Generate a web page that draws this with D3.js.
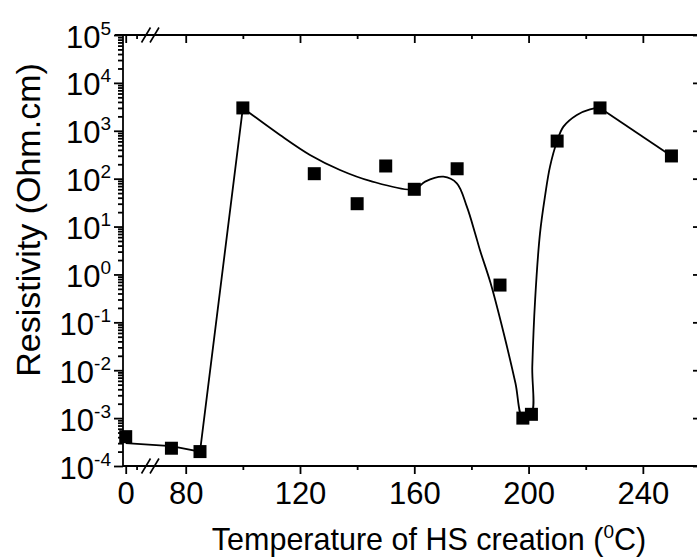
<!DOCTYPE html>
<html>
<head>
<meta charset="utf-8">
<script src="https://cdn.jsdelivr.net/npm/d3@7"></script>
<style>
body { margin: 0; background: #fff; }
text { font-family: "Liberation Sans", Arial, sans-serif; fill: #000; }
</style>
</head>
<body>
<script>
// measured samples
var temps  = [0, 75, 85, 100, 125, 140, 150, 160, 175, 190, 198, 201, 210, 225, 250];
var resist = [4.1e-4, 2.35e-4, 2.0e-4, 3000, 127, 30, 184, 60, 161, 0.6, 1.0e-3, 1.2e-3, 610, 3000, 298];

// guide line: straight start
var lowFitT = [0, 75, 85, 100];
var lowFitR = [3.0e-4, 2.6e-4, 2.0e-4, 3000];
// guide line: smooth part (dip, then rise)
var curveT = [100, 113, 123.5, 134, 144.5, 160, 163.8, 170.2, 174.9, 178.4, 181.3, 183, 186.7, 191.3, 195.4, 198,
              201, 201.3, 202.3, 204, 205.8, 207.5, 210, 212.2, 216.9, 221.5, 225];
var curveR = [3000, 817, 313, 152, 90, 60, 87, 110, 80, 26, 7.2, 3.2, 0.66, 0.059, 0.0054, 1.0e-3,
              1.2e-3, 0.012, 0.3, 7.2, 45, 178, 610, 1220, 2140, 2800, 3000];
// guide line: straight end
var tailFitT = [225, 250];
var tailFitR = [3000, 298];

// ticks
var xMajorLeft  = [0];
var xMinorLeft  = [20];
var xMajorRight = [80, 120, 160, 200, 240];
var xMinorRight = [100, 140, 180, 220];
var yExponents  = [-4, -3, -2, -1, 0, 1, 2, 3, 4, 5];

var width = 697, height = 557;
var L = 123, R = 698, T = 35, B = 466;

var svg = d3.select("body").append("svg")
	.attr("width", width)
	.attr("height", height);

var y = d3.scaleLog().domain([1e-4, 1e5]).range([B, T]);
// broken x axis: two linear pieces
var xLeft  = d3.scaleLinear().domain([-5, 30]).range([L, 142]);
var xRight = d3.scaleLinear().domain([71, 260]).range([160, 700]);
function x(t) { return t < 50 ? xLeft(t) : xRight(t); }

function styleAxis(g) {
	g.select(".domain").remove();
	g.selectAll(".tick line").attr("stroke-width", 1.8);
	g.selectAll(".tick text").attr("font-size", 31);
}

// bottom axis
var gBottom = svg.append("g").attr("transform", "translate(0," + B + ")");
gBottom.append("g").call(d3.axisBottom(xLeft).tickValues(xMajorLeft).tickSize(8).tickPadding(8).tickFormat(d3.format("d"))).call(styleAxis);
gBottom.append("g").call(d3.axisBottom(xLeft).tickValues(xMinorLeft).tickSize(4).tickFormat("")).call(styleAxis);
gBottom.append("g").call(d3.axisBottom(xRight).tickValues(xMajorRight).tickSize(8).tickPadding(8).tickFormat(d3.format("d"))).call(styleAxis);
gBottom.append("g").call(d3.axisBottom(xRight).tickValues(xMinorRight).tickSize(4).tickFormat("")).call(styleAxis);

// top axis, ticks inward
var gTop = svg.append("g").attr("transform", "translate(0," + T + ")");
gTop.append("g").call(d3.axisTop(xLeft).tickValues(xMajorLeft).tickSize(-8).tickFormat("")).call(styleAxis);
gTop.append("g").call(d3.axisTop(xLeft).tickValues(xMinorLeft).tickSize(-4).tickFormat("")).call(styleAxis);
gTop.append("g").call(d3.axisTop(xRight).tickValues(xMajorRight).tickSize(-8).tickFormat("")).call(styleAxis);
gTop.append("g").call(d3.axisTop(xRight).tickValues(xMinorRight).tickSize(-4).tickFormat("")).call(styleAxis);

// left axis
var majorY = yExponents.map(function(e) { return Math.pow(10, e); });
var minorY = y.ticks().filter(function(v) {
	var e = Math.log10(v);
	return Math.abs(e - Math.round(e)) > 1e-6;
});
var gLeft = svg.append("g").attr("transform", "translate(" + L + ",0)");
gLeft.append("g").call(d3.axisLeft(y).tickValues(minorY).tickSize(5).tickFormat("")).call(styleAxis);
var leftMajor = gLeft.append("g").call(d3.axisLeft(y).tickValues(majorY).tickSize(9).tickPadding(3)).call(styleAxis);
leftMajor.selectAll(".tick text").each(function(d) {
	var t = d3.select(this).text(null).attr("dy", 12);
	t.append("tspan").text("10");
	t.append("tspan").attr("dy", -13).attr("font-size", 19).text(Math.round(Math.log10(d)));
});

// right axis, major ticks inward
svg.append("g").attr("transform", "translate(" + R + ",0)")
	.call(d3.axisLeft(y).tickValues(majorY).tickSize(5).tickFormat("")).call(styleAxis);

// frame
svg.append("line").attr("x1", L - 8).attr("x2", width).attr("y1", T).attr("y2", T)
	.attr("stroke", "#000").attr("stroke-width", 1.8);
svg.append("line").attr("x1", L).attr("x2", width).attr("y1", B).attr("y2", B)
	.attr("stroke", "#000").attr("stroke-width", 1.8);
svg.append("line").attr("x1", L).attr("x2", L).attr("y1", T).attr("y2", B)
	.attr("stroke", "#000").attr("stroke-width", 1.8);

// break marks on top and bottom axis
[T, B].forEach(function(yy) {
	[146, 154.5].forEach(function(cx) {
		svg.append("line")
			.attr("x1", cx - 4.5).attr("y1", yy + 7.5)
			.attr("x2", cx + 4.5).attr("y2", yy - 7.5)
			.attr("stroke", "#000").attr("stroke-width", 1.6);
	});
});

// guide lines
var straight = d3.line().x(function(d) { return x(d[0]); }).y(function(d) { return y(d[1]); });
var smooth = d3.line().x(function(d) { return x(d[0]); }).y(function(d) { return y(d[1]); })
	.curve(d3.curveCatmullRom.alpha(0.5));

svg.append("path").attr("d", straight(d3.zip(lowFitT, lowFitR)))
	.attr("fill", "none").attr("stroke", "#000").attr("stroke-width", 1.8);
svg.append("path").attr("d", smooth(d3.zip(curveT, curveR)))
	.attr("fill", "none").attr("stroke", "#000").attr("stroke-width", 1.8);
svg.append("path").attr("d", straight(d3.zip(tailFitT, tailFitR)))
	.attr("fill", "none").attr("stroke", "#000").attr("stroke-width", 1.8);

// squares
var sq = 13;
svg.selectAll("rect.pt")
	.data(d3.zip(temps, resist))
	.enter().append("rect")
	.attr("class", "pt")
	.attr("x", function(d) { return x(d[0]) - sq / 2; })
	.attr("y", function(d) { return y(d[1]) - sq / 2; })
	.attr("width", sq)
	.attr("height", sq)
	.attr("fill", "#000");

// axis titles
var xt = svg.append("text")
	.attr("x", 429).attr("y", 550)
	.attr("text-anchor", "middle")
	.attr("font-size", 30.5);
xt.append("tspan").text("Temperature of HS creation (");
xt.append("tspan").attr("dy", -12).attr("font-size", 19).text("0");
xt.append("tspan").attr("dy", 12).text("C)");

svg.append("text")
	.attr("transform", "translate(40,220) rotate(-90)")
	.attr("text-anchor", "middle")
	.attr("font-size", 34)
	.text("Resistivity (Ohm.cm)");
</script>
</body>
</html>
